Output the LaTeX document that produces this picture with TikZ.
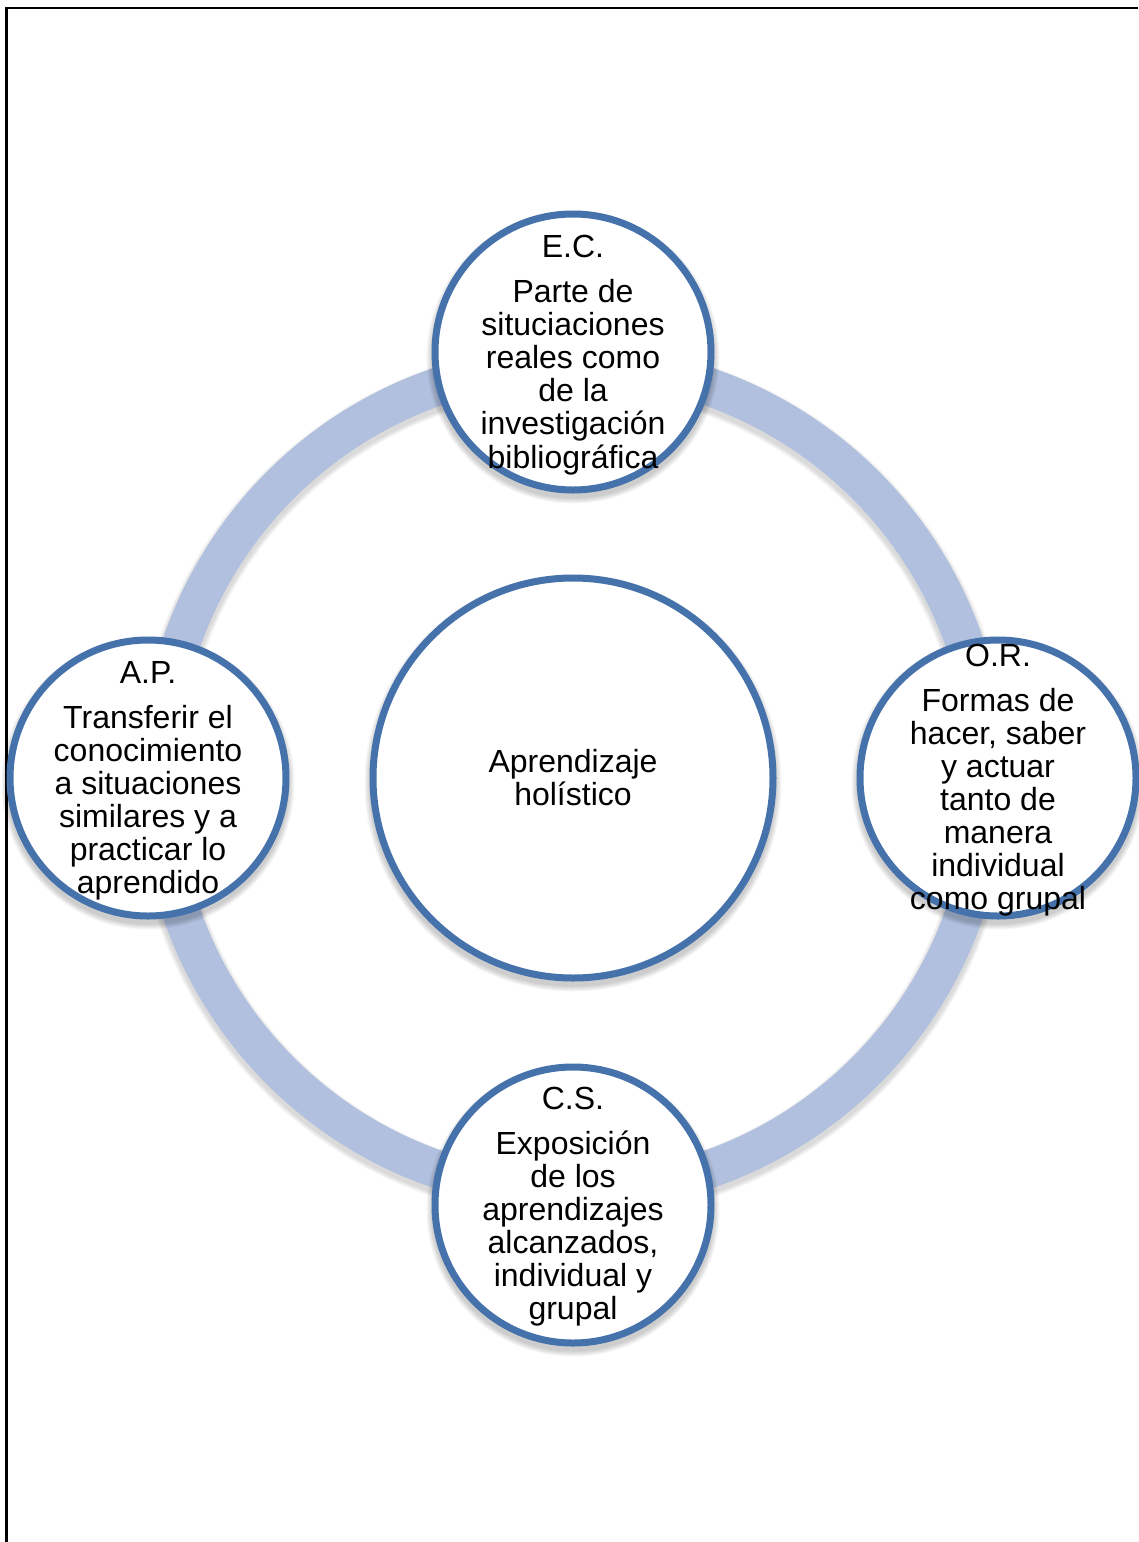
\documentclass[tikz,border=0pt]{standalone}
\usepackage{fontspec}
\setmainfont{Liberation Sans}
\usetikzlibrary{calc}
\definecolor{ringblue}{RGB}{176,192,222}
\definecolor{edgeblue}{RGB}{70,114,172}
\newcommand{\txtblock}[1]{\fontsize{32}{33}\selectfont\begin{tabular}[t]{@{}c@{}}#1\end{tabular}}
\begin{document}
\begin{tikzpicture}[x=1pt,y=1pt,
  bubble/.style={circle, draw=edgeblue, line width=7pt, fill=white, minimum size=276pt, inner sep=0pt},
  hub/.style={circle, draw=edgeblue, line width=7pt, fill=white, minimum size=400pt, inner sep=0pt},
  lbl/.style={anchor=base, inner sep=0pt, text=black}]
\useasboundingbox (0,0) rectangle (1138,-1542);
\draw[line width=2.5pt] (6.5,-1542) -- (6.5,-8) -- (1138,-8);
% ring with soft shadow
\foreach \k in {1,...,5}{\draw[black, opacity=0.03, line width={38+2*\k}] (573,-782) circle (414);}
\draw[ringblue, line width=38pt] (573,-778) circle (414);
% soft shadows of the circles
\foreach \x/\y/\r in {573/-352/138, 148/-778/138, 998/-778/138, 573/-1205/138, 573/-778/200}{
  \foreach \k in {0,...,5}{\fill[black, opacity=0.035] (\x,\y-5) circle ({\r+3.5+\k});}
}
% circles
\node[hub] (hub) at (573,-778) {};
\node[bubble] (ec) at (573,-352) {};
\node[bubble] (ap) at (148,-778) {};
\node[bubble] (or) at (998,-778) {};
\node[bubble] (cs) at (573,-1205) {};
% texts
\node[lbl] (hubt) at ($(hub)+(0,6)$) {\txtblock{Aprendizaje\\holístico}};
\node[lbl] (ect) at ($(ec)+(0,95)$) {\txtblock{E.C.}};
\node[lbl] (ecb) at ($(ec)+(0,50)$) {\txtblock{Parte de\\situciaciones\\reales como\\de la\\investigación\\bibliográfica}};
\node[lbl] (apt) at ($(ap)+(0,95)$) {\txtblock{A.P.}};
\node[lbl] (apb) at ($(ap)+(0,50)$) {\txtblock{Transferir el\\conocimiento\\a situaciones\\similares y a\\practicar lo\\aprendido}};
\node[lbl] (ort) at ($(or)+(0,112)$) {\txtblock{O.R.}};
\node[lbl] (orb) at ($(or)+(0,67)$) {\txtblock{Formas de\\hacer, saber\\y actuar\\tanto de\\manera\\individual\\como grupal}};
\node[lbl] (cst) at ($(cs)+(0,96)$) {\txtblock{C.S.}};
\node[lbl] (csb) at ($(cs)+(0,51)$) {\txtblock{Exposición\\de los\\aprendizajes\\alcanzados,\\individual y\\grupal}};
\end{tikzpicture}
\end{document}
